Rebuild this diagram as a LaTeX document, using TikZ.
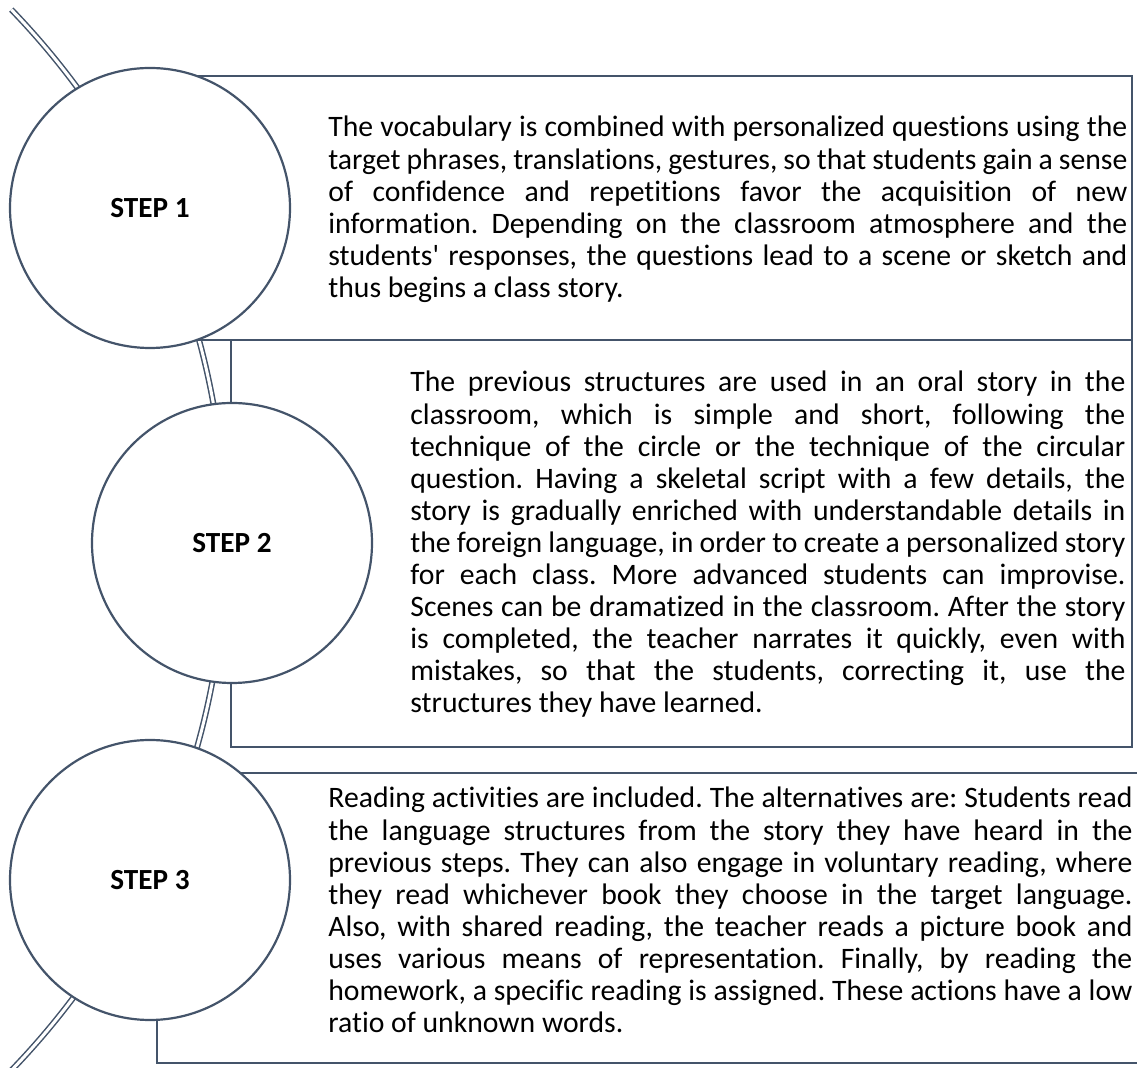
\documentclass[tikz,border=0pt]{standalone}
\usepackage{fontspec}
\setmainfont{Carlito}[RawFeature={-liga;-clig}]
\usetikzlibrary{positioning}

\definecolor{rimblue}{HTML}{44546A}

\tikzset{
  stepcircle/.style={circle, draw=rimblue, line width=1.1pt, fill=white,
    minimum size=140pt, inner sep=0pt, font=\bfseries\fontsize{14.6}{16}\selectfont},
  stepbox/.style={draw=rimblue, line width=1.1pt},
  steptext/.style={anchor=base west, inner sep=0pt, align=justify,
    font=\frenchspacing\fontsize{14.85}{16.05}\selectfont},
  arclink/.style={draw=rimblue, line width=0.75pt, double=white, double distance=1.5pt}
}

\begin{document}
\begin{tikzpicture}[x=0.5pt,y=-0.5pt]
  \useasboundingbox (0,0) rectangle (1137,1068);

  % grosser Bogen hinter den Kreisen
  \coordinate (arcc) at (-538,540);
  \path (arcc) ++(-44:763.6) coordinate (arctop);
  \draw[arclink] (arctop) arc[start angle=-44, end angle=44, radius=763.6];

  % Kaesten
  \draw[stepbox] (150,76) rectangle (1132,340);
  \draw[stepbox] (231,340) rectangle (1132,747);
  \draw[stepbox] (157,773) rectangle (1150,1063);

  % Kreise
  \node[stepcircle] (c1) at (150,208) {STEP 1};
  \node[stepcircle] (c2) at (232,543) {STEP 2};
  \node[stepcircle] (c3) at (150,880) {STEP 3};

  % Texte
  \node[steptext, text width=399.5pt] (t1) at (328,137) {The vocabulary is combined with personalized questions using the\linebreak
    target phrases, translations, gestures, so that students gain a sense\linebreak
    of confidence and repetitions favor the acquisition of new\linebreak
    information. Depending on the classroom atmosphere and the\linebreak
    students\textquotesingle{} responses, the questions lead to a scene or sketch and\linebreak
    thus begins a class story.};

  \node[steptext, text width=357.5pt] (t2) at (410,392) {The previous structures are used in an oral story in the\linebreak
    classroom, which is simple and short, following the\linebreak
    technique of the circle or the technique of the circular\linebreak
    question. Having a skeletal script with a few details, the\linebreak
    story is gradually enriched with understandable details in\linebreak
    the foreign language, in order to create a personalized story\linebreak
    for each class. More advanced students can improvise.\linebreak
    Scenes can be dramatized in the classroom. After the story\linebreak
    is completed, the teacher narrates it quickly, even with\linebreak
    mistakes, so that the students, correcting it, use the\linebreak
    structures they have learned.};

  \node[steptext, text width=402pt] (t3) at (328,808) {Reading activities are included. The alternatives are: Students read\linebreak
    the language structures from the story they have heard in the\linebreak
    previous steps. They can also engage in voluntary reading, where\linebreak
    they read whichever book they choose in the target language.\linebreak
    Also, with shared reading, the teacher reads a picture book and\linebreak
    uses various means of representation. Finally, by reading the\linebreak
    homework, a specific reading is assigned. These actions have a low\linebreak
    ratio of unknown words.};
\end{tikzpicture}
\end{document}
